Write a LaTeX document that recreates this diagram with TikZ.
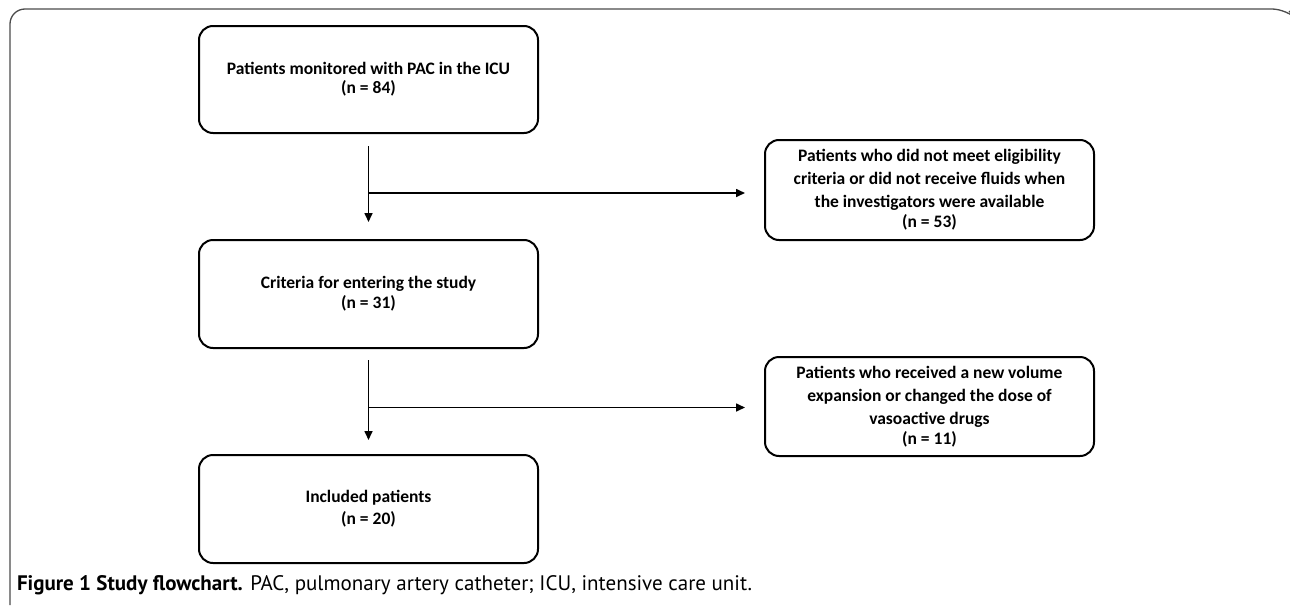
\documentclass[tikz,border=0pt]{standalone}
\usepackage{fontspec}
\setmainfont{Carlito}
\newfontfamily\capfont{PT Sans}
\usetikzlibrary{positioning, calc, arrows.meta}

\begin{document}
\begin{tikzpicture}[x=1pt, y=-1pt, line width=2pt,
    flowbox/.style={draw, rounded corners=14pt, minimum width=339pt, minimum height=107pt,
      align=center, inner sep=0pt, outer sep=0pt, font=\bfseries\fontsize{17.5}{23}\selectfont},
    sidebox/.style={flowbox, minimum width=329pt, minimum height=100pt},
    flow/.style={-{Triangle[length=9pt, width=8pt]}, line width=1.6pt}]
    \useasboundingbox (0,0) rectangle (1290,605);
    \draw[line width=1.3pt, black!70, rounded corners=15pt] (10,605) -- (10,9) -- (1287,9) -- (1289,11);

    \node[flowbox] (pac) at (368.5,79.5) {Patients monitored with PAC in the ICU\\[-4pt](n = 84)};
    \node[flowbox, minimum height=108pt, below=107pt of pac] (crit) {Criteria for entering the study\\[-3pt](n = 31)};
    \node[flowbox, minimum height=108pt, below=107pt of crit] (incl) {Included patients\\[-1pt](n = 20)};
    \node[sidebox, below right=7pt and 227pt of pac] (elig) {Patients who did not meet eligibility\\criteria or did not receive fluids when\\the investigators were available\\[-3pt](n = 53)};
    \node[sidebox, minimum height=99pt, below right=9pt and 227pt of crit] (vaso) {Patients who received a new volume\\expansion or changed the dose of\\vasoactive drugs\\[-3pt](n = 11)};

    \coordinate[below=13pt of pac] (s1);
    \coordinate[below=12pt of crit] (s2);
    \coordinate (b1) at ($(s1)!0.5!(crit.north)$);
    \coordinate (b2) at ($(s2)!0.5!(incl.north)$);
    \draw[flow, shorten >=18pt] (s1) -- (crit);
    \draw[flow, shorten >=15pt] (s2) -- (incl);
    \draw[flow, shorten >=20pt] (b1) -- (b1 -| elig.west);
    \draw[flow, shorten >=20pt] (b2) -- (b2 -| vaso.west);

    \node[anchor=base west, inner sep=0pt, font=\capfont\fontsize{21}{24}\selectfont] (cap) at (16,590)
      {\textbf{Figure 1 Study flowchart.} PAC, pulmonary artery catheter; ICU, intensive care unit.};
\end{tikzpicture}
\end{document}
